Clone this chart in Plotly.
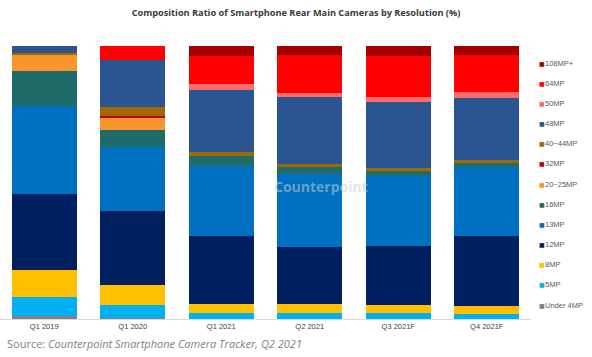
import plotly.graph_objects as go

quarters = ["Q1 2019", "Q1 2020", "Q1 2021", "Q2 2021", "Q3 2021F", "Q4 2021F"]

under4 = [1.0, 0.2, 0.0, 0.0, 0.0, 0.0]
mp5 = [7.1, 5.1, 2.2, 2.2, 2.2, 2.0]
mp8 = [10.0, 7.3, 3.4, 3.4, 2.9, 2.7]
mp12 = [27.6, 26.9, 24.9, 20.8, 21.8, 25.7]
mp13 = [32.3, 23.5, 25.4, 26.7, 25.4, 25.2]
mp16 = [13.0, 6.1, 3.9, 2.7, 2.0, 1.7]
mp20_25 = [5.6, 4.6, 0.0, 0.0, 0.0, 0.0]
mp32 = [0.0, 0.7, 0.0, 0.0, 0.0, 0.0]
mp40_44 = [1.0, 3.4, 1.2, 1.0, 1.0, 1.0]
mp48 = [2.4, 17.1, 23.0, 24.4, 24.2, 22.5]
mp50 = [0.0, 0.0, 2.0, 1.7, 2.0, 2.2]
mp64 = [0.0, 5.1, 10.5, 13.9, 14.9, 13.7]
mp108 = [0.0, 0.0, 3.4, 3.2, 3.7, 3.4]

series_names = ["Under 4MP", "5MP", "8MP", "12MP", "13MP", "16MP", "20~25MP",
                "32MP", "40~44MP", "48MP", "50MP", "64MP", "108MP+"]
series_values = [under4, mp5, mp8, mp12, mp13, mp16, mp20_25, mp32, mp40_44,
                 mp48, mp50, mp64, mp108]
series_colors = ["#808080", "#00B0F0", "#FFC000", "#002060", "#0070C0", "#1F6B6B",
                 "#F7962D", "#C00000", "#9C6A00", "#2B5591", "#FF6B6B", "#FF0000",
                 "#A50000"]

fig = go.Figure()
for name, vals, col in zip(series_names, series_values, series_colors):
    fig.add_trace(go.Bar(x=quarters, y=vals, name=name, marker_color=col,
                         marker_line_width=0, showlegend=False))

W, H = 592, 357
ML, MR, MT, MB = 0, 61, 46, 38
plot_h = H - MT - MB
plot_w = W - ML - MR

fig.update_layout(
    barmode="stack",
    bargap=0.265,
    width=W, height=H,
    margin=dict(l=ML, r=MR, t=MT, b=MB, autoexpand=False),
    paper_bgcolor="white", plot_bgcolor="white",
    title=dict(text="<b>Composition Ratio of Smartphone Rear Main Cameras by Resolution (%)</b>",
               x=0.5, xanchor="center", y=1 - 13 / H, yanchor="middle",
               font=dict(family="Open Sans", size=9.2, color="#3A3A3A")),
    font=dict(family="Liberation Sans, Arial", color="#595959"),
    showlegend=False,
    xaxis=dict(showline=True, linecolor="#D9D9D9", linewidth=1, ticks="",
               tickfont=dict(size=7.5, color="#404040"), showgrid=False),
    yaxis=dict(visible=False, range=[0, 100], showgrid=False),
)

# Legend drawn as text entries (top: 108MP+, bottom: Under 4MP)
n = len(series_names)
for i, (name, col) in enumerate(zip(series_names, series_colors)):
    ypx = 305 - i * (305 - 63) / (n - 1)
    yp = (H - MB - ypx) / plot_h
    fig.add_annotation(
        text="■", xref="paper", yref="paper",
        x=(537 - ML) / plot_w, y=yp, xanchor="left", yanchor="middle",
        showarrow=False,
        font=dict(family="DejaVu Sans", size=6, color=col))
    fig.add_annotation(
        text=name, xref="paper", yref="paper",
        x=(543 - ML) / plot_w, y=yp, xanchor="left", yanchor="middle",
        showarrow=False,
        font=dict(family="Liberation Sans, Arial", size=7.5, color="#595959"))

fig.add_annotation(text="<b>Counterpoint</b>", xref="paper", yref="paper",
                   x=0.605, y=0.485, showarrow=False,
                   font=dict(family="Open Sans", size=14,
                             color="rgba(205,205,205,0.55)"))
fig.add_annotation(text="Source: <i>Counterpoint Smartphone Camera Tracker, Q2 2021</i>",
                   xref="paper", yref="paper", x=(5 - ML) / plot_w,
                   y=(H - MB - 343) / plot_h,
                   xanchor="left", yanchor="middle", showarrow=False,
                   font=dict(family="Open Sans", size=11, color="#7F7F7F"))

fig.write_html("out.html", config={"displayModeBar": False},
               post_script="document.body.style.margin='0';document.body.style.overflow='hidden';")
